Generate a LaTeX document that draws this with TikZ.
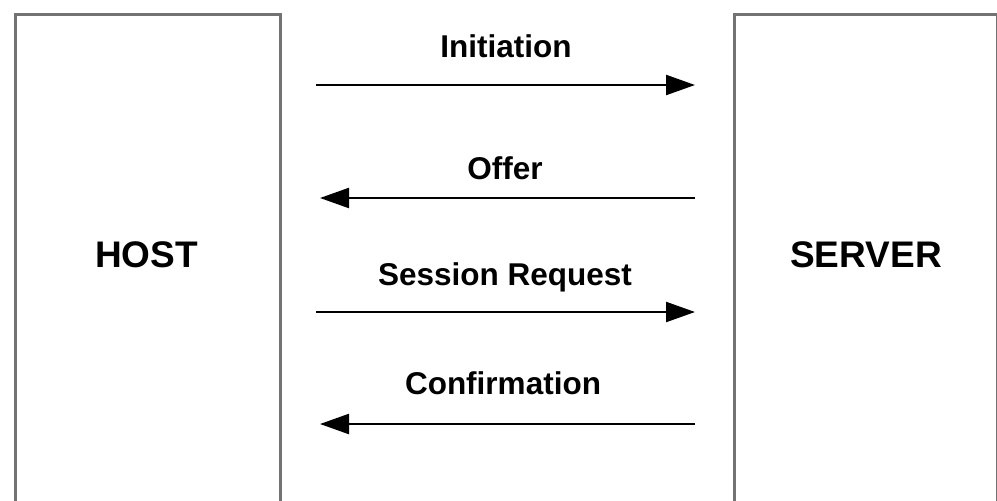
\documentclass[tikz,border=0pt]{standalone}
\usepackage{fontspec}
\setmainfont{Liberation Sans}
\usetikzlibrary{arrows.meta}
\begin{document}
\begin{tikzpicture}[x=1pt,y=-1pt,
  party/.style={draw=black!55, line width=2.6pt, fill=white, inner sep=0pt},
  partylabel/.style={font=\fontsize{37}{42}\selectfont\bfseries, inner sep=0pt},
  msglabel/.style={font=\fontsize{31.5}{37}\selectfont\bfseries, inner sep=0pt},
  msg/.style={line width=2.3pt, -{Triangle[length=29pt,width=20pt]}}]
  \useasboundingbox (0,0) rectangle (997,501);
  \clip (0,0) rectangle (997,501);
  % the two endpoints, open at the bottom edge
  \node[party, minimum width=265pt, minimum height=560pt, anchor=north west] (host) at (14,13) {};
  \node[party, minimum width=263pt, minimum height=560pt, anchor=north west] (server) at (733,13) {};
  \node[partylabel] (hostlabel) at (146.5,255) {HOST};
  \node[partylabel] (serverlabel) at (866,255) {SERVER};
  % message endpoints
  \coordinate (h1) at (316,85);  \coordinate (s1) at (695,85);
  \coordinate (s2) at (695,198); \coordinate (h2) at (320,198);
  \coordinate (h3) at (316,312); \coordinate (s3) at (695,312);
  \coordinate (s4) at (695,424); \coordinate (h4) at (320,424);
  % messages
  \draw[msg] (h1) -- (s1);
  \draw[msg] (s2) -- (h2);
  \draw[msg] (h3) -- (s3);
  \draw[msg] (s4) -- (h4);
  \node[msglabel] (m1) at (506,46) {Initiation};
  \node[msglabel] (m2) at (505,168) {Offer};
  \node[msglabel] (m3) at (505,277) {Session Request};
  \node[msglabel] (m4) at (503,383) {Confirmation};
\end{tikzpicture}
\end{document}
